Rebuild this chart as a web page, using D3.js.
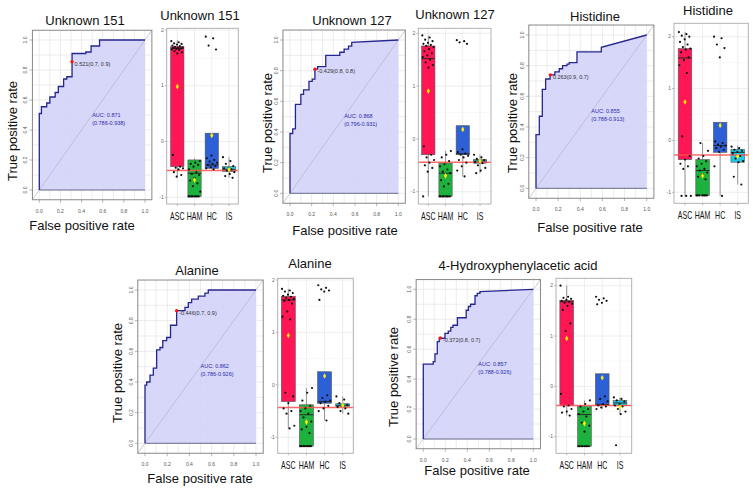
<!DOCTYPE html>
<html>
<head>
<meta charset="utf-8">
<script src="https://cdn.jsdelivr.net/npm/d3@7"></script>
<style>
  body { margin: 0; background: #fff; }
  svg { display: block; font-family: "Liberation Sans", Arial, sans-serif; }
</style>
</head>
<body>
<svg id="chart" width="753" height="489"></svg>
<script>
// ---- data ----
const groups = ["ASC", "HAM", "HC", "IS"];
const groupColors = ["#ff1654", "#1db13d", "#2d5fd6", "#1ec9e6"];

const aucValues = ["0.871", "0.868", "0.855", "0.862", "0.857"];
const aucCI = ["(0.786-0.938)", "(0.796-0.931)", "(0.788-0.913)", "(0.786-0.926)", "(0.788-0.926)"];
const cutoffLabels = ["0.521(0.7, 0.9)", "-0.429(0.8, 0.8)", "0.263(0.9, 0.7)", "-0.446(0.7, 0.9)", "-0.372(0.8, 0.7)"];
const cutoffPoints = [[0.31, 0.855], [0.23, 0.81], [0.13, 0.74], [0.285, 0.865], [0.155, 0.675]];

// ROC curves: [false positive rate, true positive rate]
const roc151 = [[0,0],[0,0.51],[0.02,0.51],[0.02,0.555],[0.07,0.555],[0.07,0.58],[0.1,0.58],[0.1,0.62],[0.15,0.62],[0.15,0.65],[0.18,0.65],[0.18,0.69],[0.23,0.69],[0.23,0.74],[0.26,0.74],[0.26,0.755],[0.31,0.755],[0.31,0.91],[0.44,0.91],[0.44,0.92],[0.49,0.92],[0.49,0.96],[0.57,0.96],[0.57,1],[1,1]];
const roc127 = [[0,0],[0,0.39],[0.025,0.39],[0.025,0.42],[0.05,0.42],[0.05,0.58],[0.1,0.58],[0.1,0.645],[0.125,0.645],[0.125,0.675],[0.175,0.675],[0.175,0.73],[0.205,0.73],[0.205,0.745],[0.23,0.745],[0.23,0.81],[0.255,0.81],[0.255,0.826],[0.33,0.826],[0.33,0.9],[0.46,0.9],[0.46,0.92],[0.5,0.92],[0.5,0.94],[0.54,0.94],[0.54,0.96],[0.57,0.96],[0.57,0.985],[1,1]];
const rocHis = [[0,0],[0,0.35],[0.03,0.35],[0.03,0.47],[0.057,0.47],[0.057,0.645],[0.087,0.645],[0.087,0.713],[0.127,0.713],[0.127,0.74],[0.17,0.74],[0.17,0.76],[0.21,0.76],[0.21,0.78],[0.24,0.78],[0.24,0.8],[0.28,0.8],[0.28,0.81],[0.3,0.81],[0.3,0.82],[0.37,0.82],[0.37,0.89],[0.59,0.89],[0.59,0.92],[1,1]];
const rocAla = [[0,0],[0,0.38],[0.015,0.38],[0.015,0.4],[0.045,0.4],[0.045,0.445],[0.075,0.445],[0.075,0.49],[0.105,0.49],[0.105,0.61],[0.135,0.61],[0.135,0.625],[0.16,0.625],[0.16,0.67],[0.195,0.67],[0.195,0.69],[0.23,0.69],[0.23,0.77],[0.285,0.77],[0.285,0.865],[0.36,0.865],[0.36,0.887],[0.39,0.887],[0.39,0.917],[0.42,0.917],[0.42,0.94],[0.48,0.94],[0.48,0.96],[0.54,0.96],[0.54,0.98],[0.57,0.98],[0.57,1],[1,1]];
const rocHpa = [[0,0],[0,0.5],[0.09,0.5],[0.09,0.517],[0.106,0.517],[0.106,0.568],[0.127,0.568],[0.127,0.65],[0.145,0.65],[0.145,0.673],[0.197,0.673],[0.197,0.705],[0.227,0.705],[0.227,0.72],[0.25,0.72],[0.25,0.745],[0.27,0.745],[0.27,0.76],[0.31,0.76],[0.31,0.81],[0.39,0.81],[0.39,0.86],[0.41,0.86],[0.41,0.885],[0.43,0.885],[0.43,0.9],[0.47,0.9],[0.47,0.957],[0.49,0.957],[0.49,0.973],[0.515,0.973],[0.515,0.985],[1,1]];
const rocCurves = [roc151, roc127, rocHis, rocAla, rocHpa];

// box stats per group: [whisker low, q1, median, q3, whisker high, mean]
const stats151 = [[-0.63,-0.45,1.67,1.70,1.82,0.985],[-0.985,-0.985,-0.57,-0.33,-0.30,-0.69],[-0.50,-0.48,-0.42,0.15,0.15,0.11],[-0.65,-0.54,-0.50,-0.45,-0.28,-0.50]];
const stats127 = [[-1.09,-0.30,1.52,1.76,1.96,0.905],[-1.09,-1.09,-0.65,-0.46,-0.23,-0.70],[-0.71,-0.30,-0.28,0.25,0.25,0.18],[-0.65,-0.46,-0.42,-0.39,-0.30,-0.42]];
const statsHis = [[-1.07,-0.37,1.59,1.77,2.09,0.74],[-1.06,-1.06,-0.58,-0.37,-0.05,-0.68],[-1.07,-0.23,-0.10,0.35,0.35,0.29],[-0.85,-0.42,-0.23,-0.17,-0.10,-0.31]];
const statsAla = [[-0.83,-0.32,1.62,1.69,1.83,0.94],[-1.17,-1.17,-0.57,-0.38,-0.06,-0.71],[-0.68,-0.35,-0.32,0.25,0.25,0.17],[-0.55,-0.41,-0.39,-0.36,-0.22,-0.39]];
const statsHpa = [[-0.58,-0.38,1.68,1.71,2.00,0.95],[-1.19,-1.19,-0.56,-0.40,-0.28,-0.74],[-0.45,-0.38,-0.36,0.25,0.25,0.17],[-0.55,-0.38,-0.33,-0.28,-0.22,-0.41]];
const boxStats = [stats151, stats127, statsHis, statsAla, statsHpa];

// individual samples per group
const pts151 = [
  [1.80,1.78,1.76,1.75,1.74,1.72,1.71,1.70,1.69,1.68,1.68,1.67,1.66,1.65,1.64,1.62,1.60,1.58,-0.24,-0.45,-0.47,-0.48,-0.50,-0.55,-0.60,-0.63],
  [-0.985,-0.985,-0.985,-0.985,-0.985,-0.985,-0.985,-0.985,-0.35,-0.38,-0.40,-0.42,-0.45,-0.50,-0.55,-0.58,-0.60,-0.65,-0.70,-0.75,-0.80,-0.90],
  [1.88,1.85,1.72,1.65,-0.25,-0.30,-0.33,-0.36,-0.38,-0.40,-0.42,-0.44,-0.46,-0.48,-0.50],
  [-0.28,-0.35,-0.40,-0.44,-0.47,-0.48,-0.50,-0.52,-0.55,-0.58,-0.62,-0.65]
];
const pts127 = [
  [1.96,1.92,1.88,1.85,1.82,1.80,1.78,1.76,1.74,1.70,1.66,1.62,1.58,1.55,1.50,1.45,1.40,1.35,-0.14,-0.30,-0.35,-0.40,-0.45,-0.50,-0.55,-0.62,-1.09],
  [-1.09,-1.09,-1.09,-1.09,-1.09,-1.09,-1.09,-1.09,-0.23,-0.30,-0.35,-0.42,-0.48,-0.52,-0.58,-0.62,-0.65,-0.70,-0.78,-0.85,-0.90],
  [1.87,1.85,1.83,1.80,-0.20,-0.25,-0.28,-0.30,-0.32,-0.35,-0.40,-0.45,-0.52,-0.60,-0.71],
  [-0.30,-0.35,-0.38,-0.40,-0.42,-0.44,-0.46,-0.50,-0.55,-0.60,-0.65]
];
const ptsHis = [
  [2.09,2.05,2.02,2.00,1.95,1.90,1.85,1.80,1.77,1.75,1.70,1.60,1.55,1.45,1.30,0.08,-0.30,-0.37,-0.45,-0.50,-0.55,-1.07,-1.07,-1.07],
  [-1.06,-1.06,-1.06,-1.06,-1.06,-1.06,-1.06,-0.05,-0.20,-0.30,-0.35,-0.40,-0.45,-0.50,-0.55,-0.58,-0.62,-0.66,-0.70,-0.75],
  [2.00,1.97,1.85,1.78,1.60,-0.02,-0.05,-0.08,-0.10,-0.12,-0.15,-0.18,-0.22,-0.50,-1.07],
  [-0.12,-0.15,-0.18,-0.20,-0.22,-0.25,-0.30,-0.35,-0.40,-0.42,-0.70,-0.85]
];
const ptsAla = [
  [1.83,1.80,1.78,1.75,1.72,1.70,1.68,1.66,1.64,1.62,1.60,1.55,1.40,1.30,1.25,-0.15,-0.22,-0.35,-0.45,-0.50,-0.55,-0.78,-0.83],
  [-1.17,-1.17,-1.17,-1.17,-1.17,-1.17,-1.17,-1.17,-0.06,-0.15,-0.30,-0.40,-0.45,-0.50,-0.55,-0.62,-0.70,-0.80,-0.85,-0.92],
  [1.90,1.85,1.82,1.80,1.78,1.62,-0.20,-0.25,-0.30,-0.32,-0.35,-0.40,-0.45,-0.50,-0.68],
  [-0.22,-0.28,-0.35,-0.38,-0.40,-0.42,-0.45,-0.50,-0.55]
];
const ptsHpa = [
  [2.00,1.78,1.76,1.74,1.72,1.70,1.68,1.66,1.64,1.60,1.52,1.25,1.10,-0.15,-0.38,-0.40,-0.45,-0.50,-0.52,-0.58],
  [-1.19,-1.19,-1.19,-1.19,-1.19,-1.19,-1.19,-1.19,-0.28,-0.35,-0.40,-0.45,-0.50,-0.55,-0.60,-0.72,-0.78,-0.90],
  [1.78,1.75,1.72,1.70,1.66,1.63,-0.20,-0.25,-0.30,-0.35,-0.38,-0.40,-0.42,-0.45],
  [-0.22,-0.25,-0.28,-0.30,-0.35,-0.38,-0.40,-0.45,-0.50,-0.55,-1.17]
];
const boxPoints = [pts151, pts127, ptsHis, ptsAla, ptsHpa];
const cutLines = [-0.52, -0.44, -0.28, -0.43, -0.38];

// ---- layout ----
// ROC data areas (pixels of fpr 0..1 / tpr 0..1) and axis title centres
const rocLayout = [
  { x0: 39.3, x1: 145, yb: 190, yt: 40, ytx: 12, yty: 131, xtx: 82, xty: 225 },
  { x0: 290, x1: 398.3, yb: 193.3, yt: 40, ytx: 267, yty: 123, xtx: 345, xty: 230 },
  { x0: 536, x1: 646.7, yb: 188.3, yt: 35, ytx: 512, yty: 123, xtx: 590, xty: 227 },
  { x0: 145, x1: 256, yb: 443.3, yt: 290, ytx: 117, yty: 373, xtx: 200, xty: 478 },
  { x0: 423.3, x1: 533.3, yb: 439, yt: 289.3, ytx: 393, yty: 377, xtx: 477, xty: 470 }
];
// box panels: border, pixel of value 2 and -1, first/last category centre
const boxLayout = [
  { l: 166.7, r: 238.3, t: 28.3, b: 204, y2: 30, ym1: 197.3, c0: 177.3, c1: 229 },
  { l: 418.3, r: 491, t: 28.3, b: 204, y2: 33.3, ym1: 191.7, c0: 428.3, c1: 480 },
  { l: 674, r: 748.3, t: 23.3, b: 203.3, y2: 36.7, ym1: 192.3, c0: 685, c1: 737.7 },
  { l: 277.7, r: 353.3, t: 278.3, b: 453.3, y2: 280, ym1: 437.3, c0: 288.3, c1: 342.7 },
  { l: 556, r: 631.7, t: 278.3, b: 453.3, y2: 285.7, ym1: 436.7, c0: 566.7, c1: 620 }
];
const titles = [
  ["Unknown 151", 85, 25], ["Unknown 151", 200, 20],
  ["Unknown 127", 352, 25], ["Unknown 127", 455, 19],
  ["Histidine", 595, 21], ["Histidine", 708, 15],
  ["Alanine", 197, 275], ["Alanine", 310, 268],
  ["4-Hydroxyphenylacetic acid", 518, 270]
];

const svg = d3.select("#chart");

titles.forEach(t => {
  svg.append("text").attr("x", t[1]).attr("y", t[2])
    .attr("text-anchor", "middle").attr("font-size", 13).attr("fill", "#111")
    .text(t[0]);
});

function drawRoc(i) {
  const L = rocLayout[i];
  const x = d3.scaleLinear().domain([0, 1]).range([L.x0, L.x1]);
  const y = d3.scaleLinear().domain([0, 1]).range([L.yb, L.yt]);
  const pad = 0.065;
  const g = svg.append("g");
  const bx0 = x(-pad), bx1 = x(1 + pad), by0 = y(1 + pad), by1 = y(-pad);

  g.append("rect").attr("x", bx0).attr("y", by0)
    .attr("width", bx1 - bx0).attr("height", by1 - by0).attr("fill", "#fff");

  const grid = d3.range(0, 1.001, 0.1);
  g.selectAll(".gv").data(grid).enter().append("line")
    .attr("x1", d => x(d)).attr("x2", d => x(d)).attr("y1", by0).attr("y2", by1)
    .attr("stroke", "#e4e4e4").attr("stroke-width", 0.7);
  g.selectAll(".gh").data(grid).enter().append("line")
    .attr("y1", d => y(d)).attr("y2", d => y(d)).attr("x1", bx0).attr("x2", bx1)
    .attr("stroke", "#e4e4e4").attr("stroke-width", 0.7);

  const curve = rocCurves[i];
  g.append("path").datum(curve)
    .attr("d", d3.area().x(d => x(d[0])).y0(y(0)).y1(d => y(d[1])))
    .attr("fill", "#d3d3fa").attr("fill-opacity", 0.9);

  g.append("line").attr("x1", x(-pad)).attr("y1", y(-pad)).attr("x2", x(1 + pad)).attr("y2", y(1 + pad))
    .attr("stroke", "#b4b4c8").attr("stroke-width", 0.7);

  g.append("line").attr("x1", x(0)).attr("x2", x(1)).attr("y1", y(0)).attr("y2", y(0))
    .attr("stroke", "#6a6a8a").attr("stroke-width", 1);

  g.append("path").datum(curve)
    .attr("d", d3.line().x(d => x(d[0])).y(d => y(d[1])))
    .attr("fill", "none").attr("stroke", "#26268f").attr("stroke-width", 1.3);

  g.append("rect").attr("x", bx0).attr("y", by0)
    .attr("width", bx1 - bx0).attr("height", by1 - by0)
    .attr("fill", "none").attr("stroke", "#888").attr("stroke-width", 1);

  const ticks = d3.range(0, 1.001, 0.2);
  const fmt = d3.format(".1f");
  ticks.forEach(t => {
    g.append("line").attr("x1", x(t)).attr("x2", x(t)).attr("y1", by1).attr("y2", by1 + 3)
      .attr("stroke", "#888").attr("stroke-width", 0.6);
    g.append("text").attr("x", x(t)).attr("y", by1 + 13)
      .attr("text-anchor", "middle").attr("font-size", 5).attr("fill", "#555").text(fmt(t));
    g.append("line").attr("y1", y(t)).attr("y2", y(t)).attr("x1", bx0 - 3).attr("x2", bx0)
      .attr("stroke", "#888").attr("stroke-width", 0.6);
    g.append("text").attr("transform", `translate(${bx0 - 5},${y(t)}) rotate(-90)`)
      .attr("text-anchor", "middle").attr("font-size", 5).attr("fill", "#555").text(fmt(t));
  });

  const cp = cutoffPoints[i];
  g.append("circle").attr("cx", x(cp[0])).attr("cy", y(cp[1])).attr("r", 1.7).attr("fill", "#ff1010");
  g.append("text").attr("x", x(cp[0]) + 2.5).attr("y", y(cp[1]) + 4)
    .attr("font-size", 5.5).attr("fill", "#333").text(cutoffLabels[i]);

  g.append("text").attr("x", x(0.5)).attr("y", y(0.49))
    .attr("font-size", 5.5).attr("fill", "#2c2ca8").text("AUC: " + aucValues[i]);
  g.append("text").attr("x", x(0.5)).attr("y", y(0.49) + 8)
    .attr("font-size", 5.5).attr("fill", "#2c2ca8").text(aucCI[i]);

  g.append("text").attr("transform", `translate(${L.ytx + 4.5},${L.yty}) rotate(-90)`)
    .attr("text-anchor", "middle").attr("font-size", 13).attr("fill", "#111").text("True positive rate");
  g.append("text").attr("x", L.xtx).attr("y", L.xty + 4.5)
    .attr("text-anchor", "middle").attr("font-size", 13).attr("fill", "#111").text("False positive rate");
}

function drawBox(i) {
  const L = boxLayout[i];
  const y = d3.scaleLinear().domain([2, -1]).range([L.y2, L.ym1]);
  const x = d3.scalePoint().domain(groups).range([L.c0, L.c1]);
  const bw = x.step() * 0.77;
  const g = svg.append("g");

  g.append("rect").attr("x", L.l).attr("y", L.t).attr("width", L.r - L.l).attr("height", L.b - L.t)
    .attr("fill", "#fff");

  [-0.5, 0.5, 1.5].forEach(v => {
    g.append("line").attr("x1", L.l).attr("x2", L.r).attr("y1", y(v)).attr("y2", y(v))
      .attr("stroke", "#f2f2f2").attr("stroke-width", 0.5);
  });
  [-1, 0, 1, 2].forEach(v => {
    g.append("line").attr("x1", L.l).attr("x2", L.r).attr("y1", y(v)).attr("y2", y(v))
      .attr("stroke", "#e6e6e6").attr("stroke-width", 0.7);
    g.append("line").attr("x1", L.l - 2).attr("x2", L.l).attr("y1", y(v)).attr("y2", y(v))
      .attr("stroke", "#777").attr("stroke-width", 0.5);
    g.append("text").attr("x", L.l - 3).attr("y", y(v) + 1.7).attr("text-anchor", "end")
      .attr("font-size", 5).attr("fill", "#666").text(v);
  });
  groups.forEach(c => {
    g.append("line").attr("x1", x(c)).attr("x2", x(c)).attr("y1", L.t).attr("y2", L.b)
      .attr("stroke", "#e6e6e6").attr("stroke-width", 0.7);
    g.append("line").attr("x1", x(c)).attr("x2", x(c)).attr("y1", L.b).attr("y2", L.b + 2)
      .attr("stroke", "#777").attr("stroke-width", 0.5);
    // category labels are narrow in the figure: squeeze horizontally
    g.append("text").attr("transform", `translate(${x(c)},${L.b + 16}) scale(0.7,1)`)
      .attr("text-anchor", "middle").attr("font-size", 10).attr("fill", "#111").text(c);
  });

  boxStats[i].forEach((s, k) => {
    const cx = x(groups[k]);
    g.append("line").attr("x1", cx).attr("x2", cx).attr("y1", y(s[0])).attr("y2", y(s[4]))
      .attr("stroke", "#555").attr("stroke-width", 0.6);
    g.append("rect").attr("x", cx - bw / 2).attr("y", y(s[3]))
      .attr("width", bw).attr("height", Math.max(1.2, y(s[1]) - y(s[3])))
      .attr("fill", groupColors[k]).attr("stroke", "#555").attr("stroke-width", 0.6);
    g.append("line").attr("x1", cx - bw / 2).attr("x2", cx + bw / 2).attr("y1", y(s[2])).attr("y2", y(s[2]))
      .attr("stroke", "#222").attr("stroke-width", 0.9);
  });

  g.append("line").attr("x1", L.l).attr("x2", L.r).attr("y1", y(cutLines[i])).attr("y2", y(cutLines[i]))
    .attr("stroke", "#ff4d4d").attr("stroke-opacity", 0.85).attr("stroke-width", 1.5);

  boxPoints[i].forEach((vals, k) => {
    const cx = x(groups[k]);
    g.selectAll(null).data(vals).enter().append("circle")
      .attr("cx", (d, j) => cx + (((j * 0.6180339) % 1) - 0.5) * bw * 0.9)
      .attr("cy", d => y(d)).attr("r", 1.1).attr("fill", "#111");
  });

  boxStats[i].forEach((s, k) => {
    g.append("path").attr("d", d3.symbol(d3.symbolDiamond, 9)())
      .attr("transform", `translate(${x(groups[k])},${y(s[5])})`).attr("fill", "#ffee00");
  });

  g.append("rect").attr("x", L.l).attr("y", L.t).attr("width", L.r - L.l).attr("height", L.b - L.t)
    .attr("fill", "none").attr("stroke", "#aaa").attr("stroke-width", 0.9);
}

d3.range(5).forEach(i => { drawRoc(i); drawBox(i); });
</script>
</body>
</html>
